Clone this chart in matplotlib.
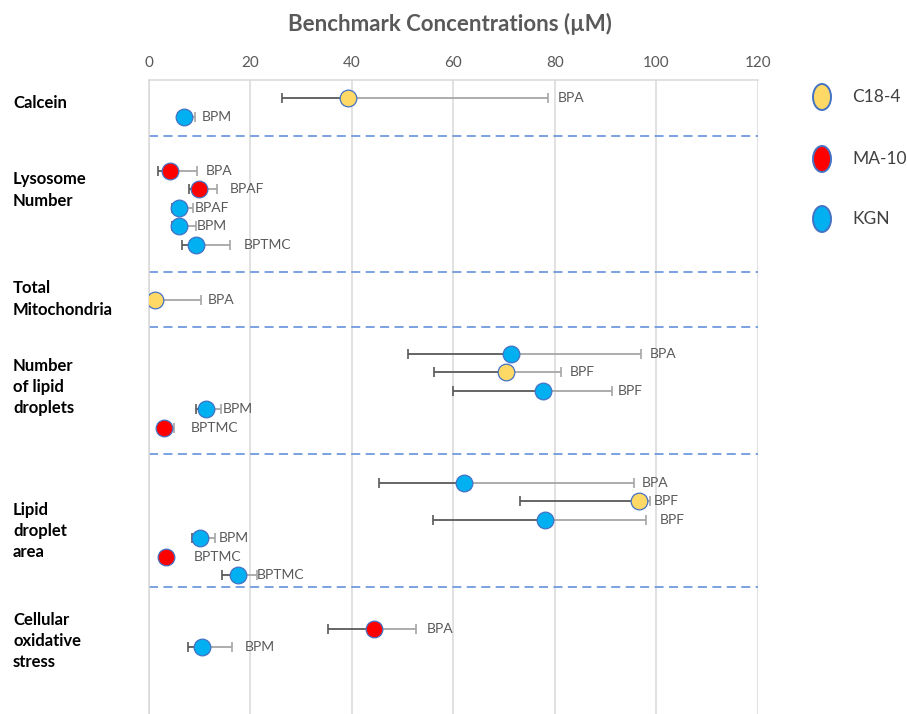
import numpy as np
import matplotlib.pyplot as plt
from matplotlib.patches import Ellipse
from matplotlib.transforms import blended_transform_factory

plt.rcParams['font.family'] = ['Lato', 'DejaVu Sans']

# endpoints and their row labels
groups = ['Calcein', 'Lysosome\nNumber', 'Total\nMitochondria',
          'Number\nof lipid\ndroplets', 'Lipid\ndroplet\narea',
          'Cellular\noxidative\nstress']
row_group = [0, 0, 1, 1, 1, 1, 1, 2, 3, 3, 3, 3, 3, 4, 4, 4, 4, 4, 4, 5, 5]
row_cell = ['C18-4', 'KGN',
            'MA-10', 'MA-10', 'KGN', 'KGN', 'KGN',
            'C18-4',
            'KGN', 'C18-4', 'KGN', 'KGN', 'MA-10',
            'KGN', 'C18-4', 'KGN', 'KGN', 'MA-10', 'KGN',
            'MA-10', 'KGN']
row_chem = ['BPA', 'BPM',
            'BPA', 'BPAF', 'BPAF', 'BPM', 'BPTMC',
            'BPA',
            'BPA', 'BPF', 'BPF', 'BPM', 'BPTMC',
            'BPA', 'BPF', 'BPF', 'BPM', 'BPTMC', 'BPTMC',
            'BPA', 'BPM']
bmc = [39.3, 7.0,
       4.2, 9.9, 6.1, 6.0, 9.4,
       1.2,
       71.4, 70.3, 77.7, 11.3, 3.1,
       62.2, 96.5, 78.0, 10.2, 3.5, 17.6,
       44.3, 10.5]
bmcl = [26.2, 5.8,
        1.9, 8.0, 4.7, 4.6, 6.5,
        0.6,
        51.1, 56.3, 59.9, 9.4, 2.6,
        45.4, 73.2, 56.0, 8.6, 3.5, 14.4,
        35.4, 7.7]
bmcu = [78.6, 9.2,
        9.6, 13.5, 8.8, 9.4, 16.0,
        10.3,
        96.9, 81.3, 91.3, 14.3, 5.1,
        95.5, 98.8, 98.0, 13.1, 3.5, 21.3,
        52.7, 16.4]
cells = ['C18-4', 'MA-10', 'KGN']
xticks = [0, 20, 40, 60, 80, 100, 120]

# layout (row units, top down) and label gaps in pixels
group_start = [1.0, 4.95, 11.96, 14.89, 21.9, 29.84]
group_label_y = [1.25, 5.98, 11.9, 16.68, 24.5, 30.49]
separators = [3.05, 10.43, 13.42, 20.33, 27.55]
label_gap = [10, 7, 8, 13, 2, 1, 14, 7, 9, 8, 6, 2, 16, 8, 3, 13, 4, 19, 0, 11, 13]

fill = {'C18-4': '#FFD966', 'MA-10': '#FF0000', 'KGN': '#00B0F0'}
edge = '#4472C4'
dark = '#595959'
light = '#A6A6A6'
W, H = 907, 714

fig = plt.figure(figsize=(W / 100, H / 100), dpi=100)
ax = fig.add_axes([148.5 / W, 0, 609.5 / W, (H - 80) / H])

# y position of every row inside its group
ypos = []
count = {}
for g in row_group:
    k = count.get(g, 0)
    ypos.append(group_start[g] + k)
    count[g] = k + 1

for i in range(len(bmc)):
    y = ypos[i]
    lo = bmc[i] - bmcl[i]
    hi = bmcu[i] - bmc[i]
    if lo > 0:
        ax.errorbar(bmc[i], y, xerr=[[lo], [0]], fmt='none', ecolor=dark,
                    elinewidth=1.3, capsize=3.5, capthick=1.2, zorder=2)
    if hi > 0:
        ax.errorbar(bmc[i], y, xerr=[[0], [hi]], fmt='none', ecolor=light,
                    elinewidth=1.3, capsize=3.5, capthick=1.2, zorder=2)
    ax.plot(bmc[i], y, 'o', ms=12, mfc=fill[row_cell[i]], mec=edge,
            mew=0.9, zorder=3)
    ax.annotate(row_chem[i], (max(bmcu[i], bmc[i]), y),
                xytext=(label_gap[i] + (8 if bmcu[i] <= bmc[i] else 0), 0),
                textcoords='offset pixels', va='center', ha='left',
                fontsize=10, color=dark, zorder=4)

for s in separators:
    ax.axhline(s, color='#6F9BDD', lw=1.3, ls=(0, (5, 3)), zorder=1)

ax.set_xlim(0, 120)
ax.set_ylim(34.46, 0)
ax.set_xticks(xticks)
ax.xaxis.tick_top()
ax.tick_params(axis='x', length=0, pad=7, labelsize=11, labelcolor=dark)
ax.set_yticks([])
ax.grid(axis='x', color='#D9D9D9', lw=1.1)
ax.set_axisbelow(True)
for side in ['left', 'top']:
    ax.spines[side].set_color('#D9D9D9')
    ax.spines[side].set_linewidth(1.1)
for side in ['right', 'bottom']:
    ax.spines[side].set_visible(False)

# group names on the left
trans = blended_transform_factory(fig.transFigure, ax.transData)
for name, gy in zip(groups, group_label_y):
    ax.text(13 / W, gy, name, transform=trans, ha='left', va='center',
            fontsize=12, fontweight='bold', color='black', linespacing=1.4,
            clip_on=False)

fig.text(450 / W, 1 - 24 / H, 'Benchmark Concentrations (µM)', ha='center',
         va='center', fontsize=16, fontweight='bold', color=dark)

# legend with oval swatches
for cell, ly in zip(cells, [97, 159, 219]):
    fig.add_artist(Ellipse((822 / W, 1 - ly / H), 18 / W, 26 / H,
                           transform=fig.transFigure, facecolor=fill[cell],
                           edgecolor=edge, lw=1.4))
    fig.text(852 / W, 1 - ly / H, cell, ha='left', va='center', fontsize=12.5,
             color='#404040')

fig.savefig('out.png', dpi=100)
